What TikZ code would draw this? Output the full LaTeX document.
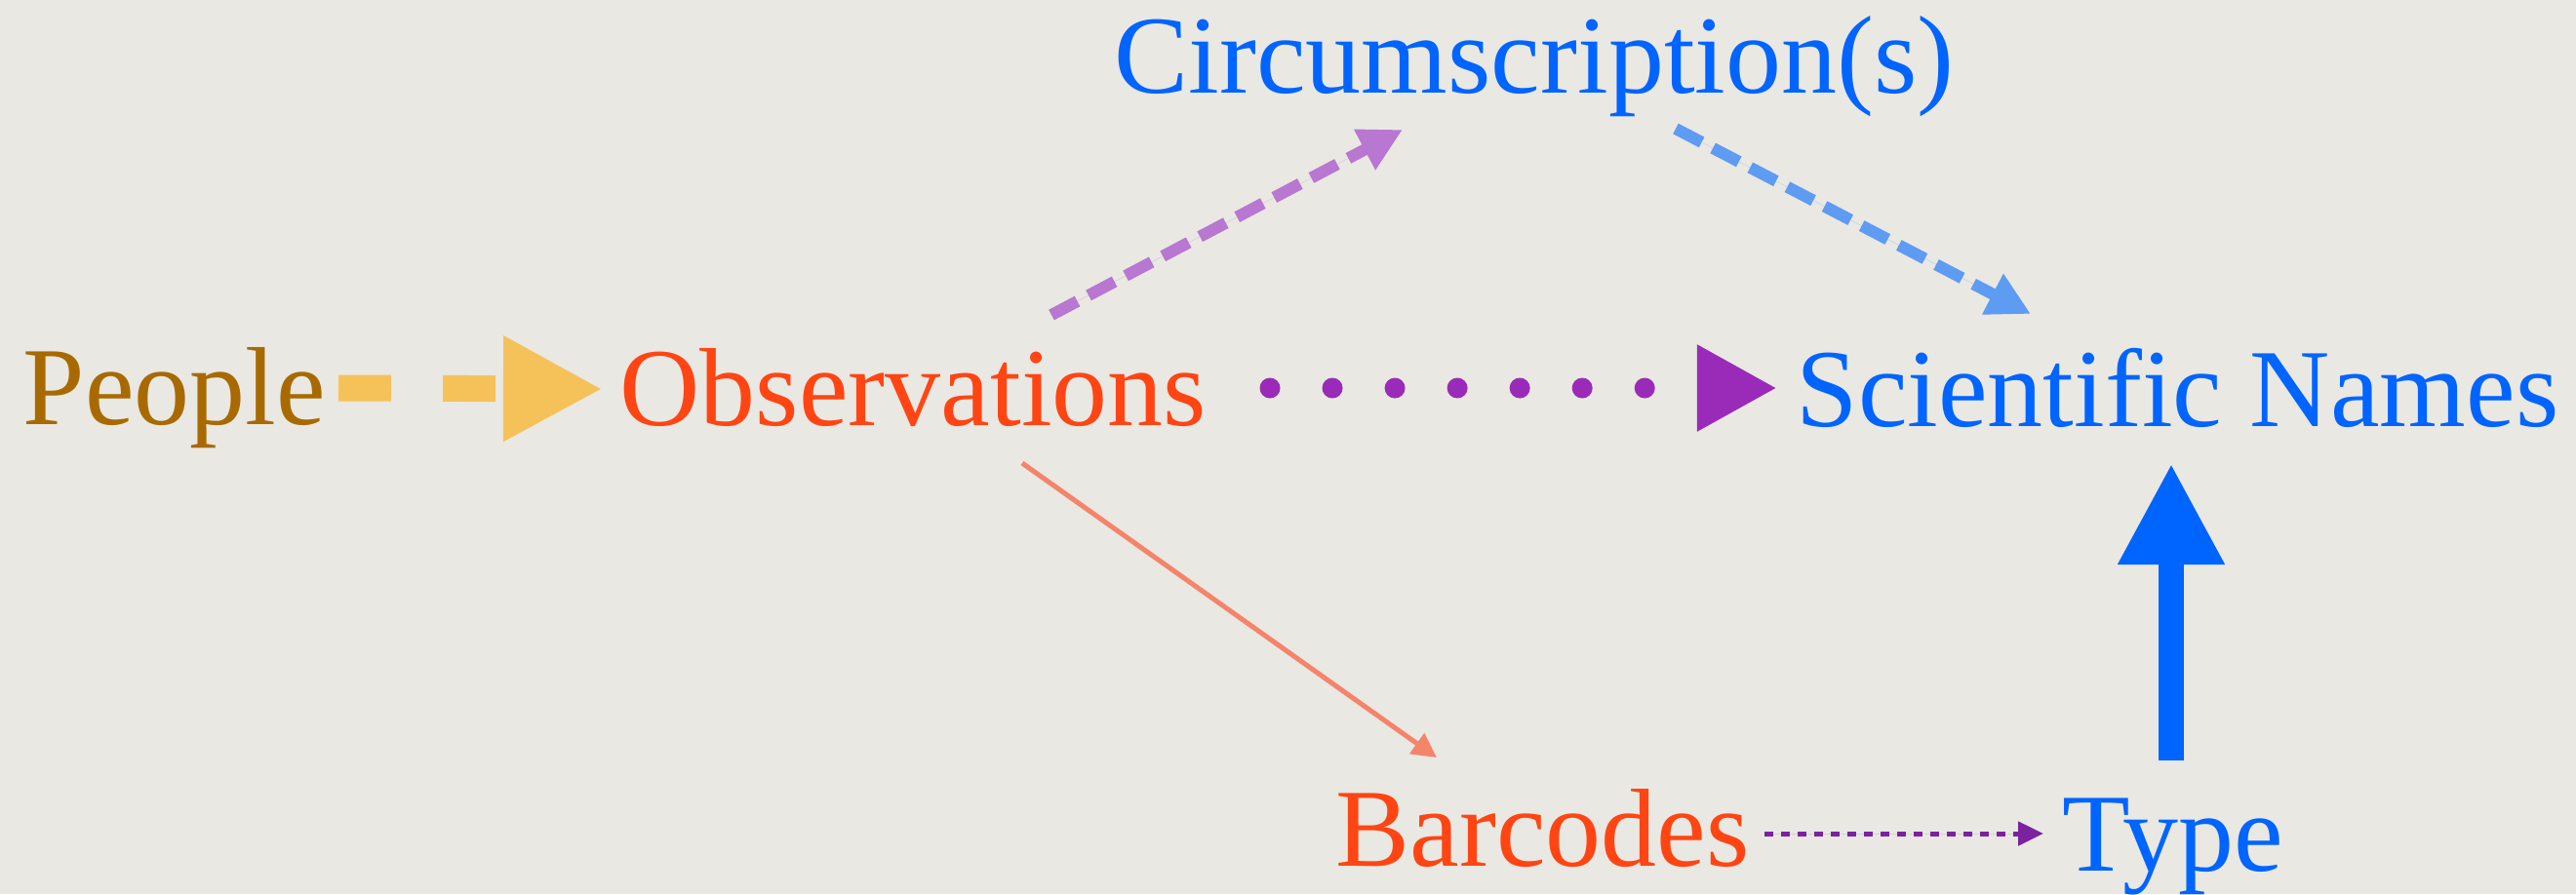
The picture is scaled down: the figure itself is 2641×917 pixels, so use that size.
\documentclass[tikz,border=0pt]{standalone}
\usepackage{fontspec}
\setmainfont{Liberation Serif}
\usetikzlibrary{arrows.meta}
\definecolor{paper}{RGB}{233,232,226}
\definecolor{peoplecol}{RGB}{168,106,0}
\definecolor{obscol}{RGB}{255,69,19}
\definecolor{namecol}{RGB}{0,100,255}
\definecolor{goldcol}{RGB}{245,194,90}
\definecolor{dotcol}{RGB}{154,43,184}
\definecolor{lilac}{RGB}{184,119,209}
\definecolor{skyblue}{RGB}{94,155,242}
\definecolor{salmon}{RGB}{244,132,106}
\definecolor{violet}{RGB}{122,34,160}
\begin{document}
\begin{tikzpicture}[x=0.01cm,y=-0.01cm,
				word/.style={anchor=base west,inner sep=0pt,font=\fontsize{32.4pt}{38pt}\selectfont},
				bigdash/.style={draw=goldcol,line width=0.27cm,dash pattern=on 0.54cm off 0.53cm,
					-{Triangle[length=1.02cm,width=1.01cm,fill=goldcol]}},
				bigdots/.style={draw=dotcol,line width=0.21cm,line cap=round,dash pattern=on 0pt off 0.64cm,
					-{Triangle[length=0.82cm,width=0.83cm,fill=dotcol]}},
				middash/.style={line width=0.12cm,dash pattern=on 0.30cm off 0.13cm,
					-{Triangle[length=0.44cm,width=0.44cm]}},
				thin/.style={draw=salmon,line width=0.05cm,-{Triangle[length=0.25cm,width=0.25cm]}},
				smalldash/.style={draw=violet,line width=0.05cm,dash pattern=on 0.09cm off 0.08cm,
					-{Triangle[length=0.26cm,width=0.24cm]}},
				fat/.style={draw=namecol,line width=0.26cm,-{Triangle[length=1.04cm,width=1.02cm]}}]
\fill[paper] (0,0) rectangle (2641,917);
\useasboundingbox (0,0) rectangle (2641,917);
% the words
\node[word,text=peoplecol] (people) at (23,435) {People};
\node[word,text=obscol] (obs) at (635,436) {Observations};
\node[word,text=namecol] (sci) at (1841,437) {Scientific Names};
\node[word,text=namecol] (circ) at (1142,95) {Circumscription(s)};
\node[word,text=obscol] (bar) at (1369,888) {Barcodes};
\node[word,text=namecol] (type) at (2114,893) {Type};
% the arrows
\draw[bigdash] ([shift={(324,-37)}]people.base west) -- ([shift={(-17,-37)}]obs.base west);
\draw[bigdots] ([shift={(667,-38)}]obs.base west) -- ([shift={(-19,-39)}]sci.base west);
\draw[middash,draw=lilac,fill=lilac] ([shift={(443,-113)}]obs.base west) -- ([shift={(296,38)}]circ.base west);
\draw[middash,draw=skyblue,fill=skyblue] ([shift={(576,37)}]circ.base west) -- ([shift={(241,-115)}]sci.base west);
\draw[thin,fill=salmon] ([shift={(413,39)}]obs.base west) -- ([shift={(104,-111)}]bar.base west);
\draw[smalldash,fill=violet] ([shift={(440,-33)}]bar.base west) -- ([shift={(-19,-38)}]type.base west);
\draw[fat,fill=namecol] ([shift={(112,-113)}]type.base west) -- ([shift={(385,38)}]sci.base west);
\end{tikzpicture}
\end{document}
